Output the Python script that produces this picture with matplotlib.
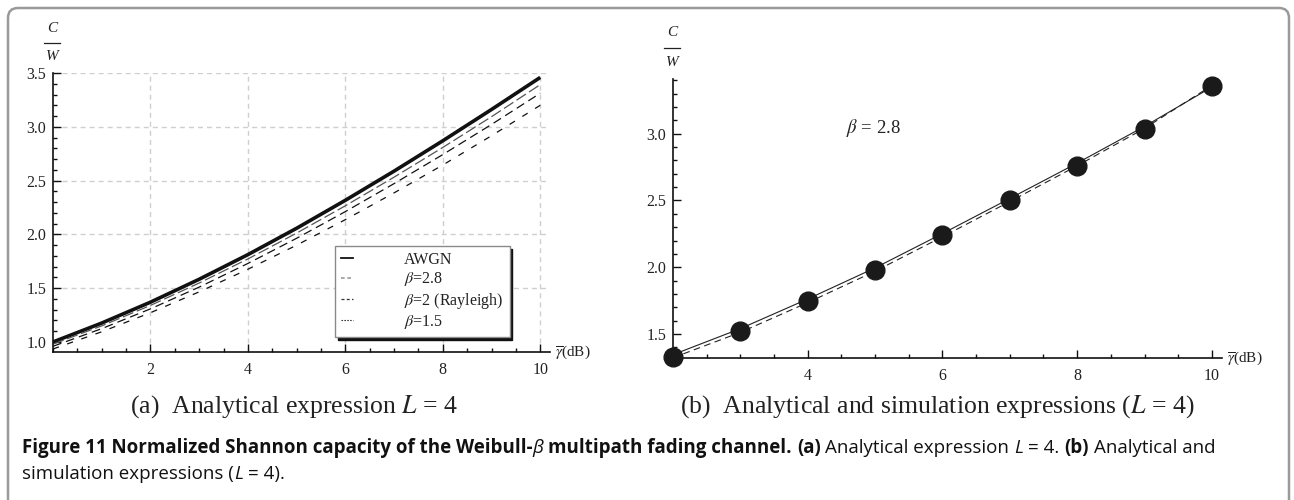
import matplotlib
matplotlib.use("Agg")
import matplotlib.pyplot as plt
from matplotlib.transforms import IdentityTransform
from matplotlib.lines import Line2D
from matplotlib.patches import FancyBboxPatch
from matplotlib.ticker import MultipleLocator, FixedLocator

# ---------------- data ----------------
snr_a = [0, 1, 2, 3, 4, 5, 6, 7, 8, 9, 10]
awgn = [1.000, 1.176, 1.370, 1.583, 1.812, 2.057, 2.317, 2.588, 2.870, 3.161, 3.459]
beta_28 = [0.980, 1.150, 1.340, 1.548, 1.772, 2.012, 2.266, 2.532, 2.808, 3.094, 3.392]
beta_20 = [0.960, 1.124, 1.308, 1.510, 1.730, 1.964, 2.212, 2.472, 2.742, 3.022, 3.312]
beta_15 = [0.935, 1.095, 1.272, 1.466, 1.676, 1.900, 2.137, 2.386, 2.645, 2.917, 3.200]
legend_labels = ["AWGN", r"$\beta$=2.8", r"$\beta$=2 (Rayleigh)", r"$\beta$=1.5"]

snr_b = [2, 3, 4, 5, 6, 7, 8, 9, 10]
analytic_b = [1.345, 1.540, 1.762, 1.995, 2.252, 2.515, 2.780, 3.055, 3.350]
analytic_b2 = [1.322, 1.512, 1.735, 1.970, 2.228, 2.492, 2.760, 3.040, 3.362]
simulated_b = [1.330, 1.520, 1.745, 1.980, 2.240, 2.500, 2.760, 3.035, 3.355]

xticks_a = [2, 4, 6, 8, 10]
yticks_a = [1.0, 1.5, 2.0, 2.5, 3.0, 3.5]
xticks_b = [4, 6, 8, 10]
yticks_b = [1.5, 2.0, 2.5, 3.0]

# ---------------- style ----------------
plt.rcParams["font.family"] = ["Liberation Serif", "DejaVu Serif"]
plt.rcParams["mathtext.fontset"] = "stix"

W, H = 1294, 500
fig = plt.figure(figsize=(W / 100, H / 100), dpi=100)
ID = IdentityTransform()


def px_axes(x0, x1, ytop, ybot):
    return fig.add_axes([x0 / W, (H - ybot) / H, (x1 - x0) / W, (ybot - ytop) / H])


def style_axes(ax):
    for s in ("top", "right"):
        ax.spines[s].set_visible(False)
    for s in ("left", "bottom"):
        ax.spines[s].set_linewidth(1.2)
        ax.spines[s].set_color("#111111")
    ax.tick_params(which="both", direction="in", color="#111111", width=1.0,
                   labelcolor="#222222", labelsize=11.5)
    ax.tick_params(which="major", length=5.5)
    ax.tick_params(which="minor", length=3.2)
    ax.tick_params(axis="x", pad=7)
    ax.tick_params(axis="y", pad=5)
    ax.set_facecolor("none")


# ---------------- panel (a) ----------------
axa = px_axes(53, 550, 73, 352)
style_axes(axa)
axa.set_xlim(0, 10.2)
axa.set_ylim(0.907, 3.5)
axa.xaxis.set_major_locator(FixedLocator(xticks_a))
axa.xaxis.set_minor_locator(MultipleLocator(0.5))
axa.yaxis.set_major_locator(FixedLocator(yticks_a))
axa.yaxis.set_minor_locator(MultipleLocator(0.1))
axa.set_yticklabels([f"{v:.1f}" for v in yticks_a])
axa.grid(True, which="major", color="#cfcfcf", linestyle=(0, (3.6, 2.9)), linewidth=1.0)
axa.yaxis.get_gridlines()[0].set_visible(False)
axa.set_axisbelow(True)

axa.plot(snr_a, awgn, color="#111111", lw=2.6, solid_capstyle="butt")
axa.plot(snr_a, beta_28, color="#555555", lw=0.9, dashes=(9, 3))
axa.plot(snr_a, beta_20, color="#111111", lw=0.9, dashes=(7, 4))
axa.plot(snr_a, beta_15, color="#111111", lw=0.9, dashes=(5, 7))

handles = [
    Line2D([], [], color="#111111", lw=1.3),
    Line2D([], [], color="#999999", lw=1.2, dashes=(2.2, 1.6)),
    Line2D([], [], color="#333333", lw=0.9, dashes=(2.4, 1.8)),
    Line2D([], [], color="#333333", lw=0.8, dashes=(1.4, 1.2)),
]
leg = axa.legend(handles, legend_labels, loc="upper left", bbox_to_anchor=(0.567, 0.380),
                 borderaxespad=0, fontsize=11.5, handlelength=0.75, handletextpad=3.2,
                 labelspacing=0.14, borderpad=0.38, fancybox=False, frameon=True,
                 shadow={"color": "#111111", "alpha": 1.0})
leg.get_frame().set_edgecolor("#8a8a8a")
leg.get_frame().set_linewidth(1.0)
for t in leg.get_texts():
    t.set_color("#222222")

axa.text(1.01, 0.0, r"$\overline{\gamma}$(dB)", transform=axa.transAxes,
         ha="left", va="center", fontsize=11, color="#222222")

# ---------------- panel (b) ----------------
axb = px_axes(673, 1222, 79, 358)
style_axes(axb)
axb.set_xlim(2, 10.15)
axb.set_ylim(1.32, 3.41)
axb.xaxis.set_major_locator(FixedLocator(xticks_b))
axb.xaxis.set_minor_locator(MultipleLocator(0.5))
axb.yaxis.set_major_locator(FixedLocator(yticks_b))
axb.yaxis.set_minor_locator(MultipleLocator(0.1))
axb.set_yticklabels([f"{v:.1f}" for v in yticks_b])

axb.plot(snr_b, analytic_b, color="#222222", lw=0.8)
axb.plot(snr_b, analytic_b2, color="#222222", lw=0.8, dashes=(6, 4))
axb.plot(snr_b, simulated_b, linestyle="none", marker="o", markersize=13.5,
         color="#1a1a1a", clip_on=False, zorder=5)
axb.text(4.98, 3.04, r"$\beta$ = 2.8", fontsize=13.5, ha="center", va="center", color="#222222")
axb.text(1.01, 0.0, r"$\overline{\gamma}$(dB)", transform=axb.transAxes,
         ha="left", va="center", fontsize=11, color="#222222")


# C / W labels above the y axes
def cw_label(xc, yc, yl, yw):
    fig.text(xc, H - yc, "C", transform=ID, ha="center", va="center",
             fontsize=11, style="italic", color="#222222")
    fig.add_artist(Line2D([xc - 8, xc + 8], [H - yl, H - yl], transform=ID,
                          color="#222222", lw=0.9))
    fig.text(xc, H - yw, "W", transform=ID, ha="center", va="center",
             fontsize=11, style="italic", color="#222222")


cw_label(52, 28, 43, 57)
cw_label(672, 33, 48, 63)

# ---------------- sub captions ----------------
fig.text(294, H - 407, r"(a)  Analytical expression $L$ = 4", transform=ID,
         ha="center", va="center", fontsize=18.5, color="#222222")
fig.text(937, H - 407, r"(b)  Analytical and simulation expressions ($L$ = 4)", transform=ID,
         ha="center", va="center", fontsize=18.5, color="#222222")

# ---------------- figure caption ----------------
fig.canvas.draw()
renderer = fig.canvas.get_renderer()
cap_font = ["Open Sans", "DejaVu Sans"]
cap_size = 13.5


def measure(s, **kw):
    t = fig.text(0, 0, s, transform=ID, fontsize=cap_size, family=cap_font, **kw)
    w = t.get_window_extent(renderer).width
    t.remove()
    return w


space_w = measure("x x") - measure("xx")


def draw_runs(x, y, runs):
    for s, kw, gap in runs:
        t = fig.text(x, y, s, transform=ID, fontsize=cap_size, family=cap_font,
                     va="baseline", ha="left", color="#111111", **kw)
        x += t.get_window_extent(renderer).width + (space_w if gap else 0)


B = {"weight": "bold"}
R = {"weight": "normal"}
I = {"style": "italic"}
line1 = [
    ("Figure 11 Normalized Shannon capacity of the Weibull-", B, False),
    ("β", I, True),
    ("multipath fading channel.", B, True),
    ("(a)", B, True),
    ("Analytical expression", R, True),
    ("L", I, True),
    ("= 4.", R, True),
    ("(b)", B, True),
    ("Analytical and", R, False),
]
line2 = [
    ("simulation expressions (", R, False),
    ("L", I, True),
    ("= 4).", R, False),
]
draw_runs(22, H - 453, line1)
draw_runs(22, H - 479, line2)

# ---------------- outer frame ----------------
frame = FancyBboxPatch((8, -30), W - 8 - 5, H - 8 + 30, boxstyle="round,pad=0,rounding_size=10",
                       transform=ID, fill=False, edgecolor="#9a9a9a", linewidth=1.8)
fig.add_artist(frame)

fig.savefig("out.png", dpi=100)
